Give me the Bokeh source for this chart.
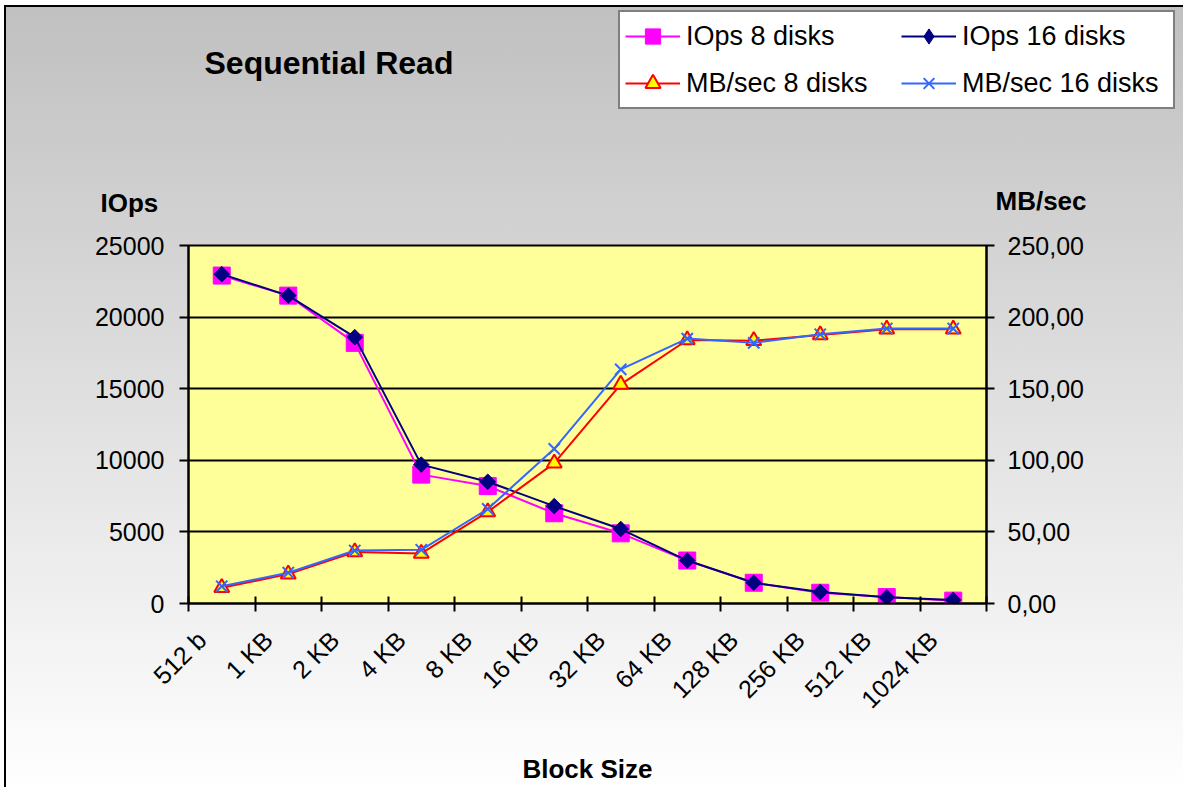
import math
from bokeh.plotting import figure
from bokeh.layouts import column
from bokeh.models import Range1d, LinearAxis, FixedTicker, Legend, LegendItem, Label
from bokeh.embed import file_html
from bokeh.resources import INLINE

# ---------------- data ----------------
block_sizes = ["512 b", "1 KB", "2 KB", "4 KB", "8 KB", "16 KB", "32 KB",
               "64 KB", "128 KB", "256 KB", "512 KB", "1024 KB"]
iops_8_disks = [22900, 21500, 18200, 9000, 8200, 6300, 4900, 3000, 1450, 750, 450, 200]
iops_16_disks = [23000, 21500, 18600, 9700, 8500, 6800, 5200, 3000, 1450, 800, 430, 250]
mbsec_8_disks = [11, 20.5, 36, 35, 64, 98, 153, 184, 183.5, 187.5, 191.5, 191.5]
mbsec_16_disks = [12, 21.5, 37, 37.5, 66, 108, 163.5, 185, 182, 188, 192, 192]
iops_ticks = [0, 5000, 10000, 15000, 20000, 25000]
mbsec_ticks = [0, 50, 100, 150, 200, 250]
mbsec_tick_labels = ["0,00", "50,00", "100,00", "150,00", "200,00", "250,00"]

series_names = ["IOps 8 disks", "IOps 16 disks", "MB/sec 8 disks", "MB/sec 16 disks"]

FONT = "Liberation Sans"
W = 1183
HEAD_H = 230
CHART_H = 557

n = len(block_sizes)
x = [i + 0.5 for i in range(n)]           # category centres
label_pos = [i + 0.2 for i in range(n)]   # where the slanted labels hang
boundaries = list(range(n + 1))

styles = [
    dict(color="#FF00FF", marker="square", size=17, angle=0.0, fill="#FF00FF", mline=1,
         legend_marker="square"),
    dict(color="#000080", marker="square", size=11, angle=math.pi / 4, fill="#000080", mline=1,
         legend_marker="diamond"),
    dict(color="#FF0000", marker="triangle", size=15, angle=0.0, fill="#FFFF00", mline=2,
         legend_marker="triangle"),
    dict(color="#3366FF", marker="x", size=16, angle=0.0, fill=None, mline=2,
         legend_marker="x"),
]
series_values = [iops_8_disks, iops_16_disks, mbsec_8_disks, mbsec_16_disks]
series_ranges = ["default", "default", "mb", "mb"]


def no_align(fig):
    try:
        fig.frame_align = False
    except Exception:
        pass


# ---------------- header (title, legend, axis titles) ----------------
head = figure(width=W, height=HEAD_H, output_backend="svg", toolbar_location=None,
              title=None, x_axis_location=None, y_axis_location=None,
              x_range=Range1d(0, 1), y_range=Range1d(-1, 0),
              min_border=0, min_border_left=0, min_border_right=0,
              min_border_top=0, min_border_bottom=0)
no_align(head)
head.grid.visible = False
head.outline_line_color = None
head.background_fill_color = None
head.border_fill_color = None

# legend proxies: same data, but outside the header's (empty) view, so only
# their legend swatches show
items = []
for name, vals, st in zip(series_names, series_values, styles):
    lr = head.line(x, vals, line_color=st["color"], line_width=2)
    mr = head.scatter(x, vals, marker=st["legend_marker"], size=st["size"],
                      fill_color=st["fill"], line_color=st["color"], line_width=st["mline"])
    items.append(LegendItem(label=name, renderers=[lr, mr]))

legend = Legend(items=items, orientation="horizontal", ncols=2, location=(618, HEAD_H - 109))
legend.label_text_font = FONT
legend.label_text_font_size = "27px"
legend.label_text_color = "black"
legend.glyph_width = 55
legend.glyph_height = 38
legend.label_height = 30
legend.label_width = 206
legend.label_standoff = 6
legend.spacing = 9
legend.padding = 5
legend.margin = 0
legend.border_line_color = "black"
legend.border_line_width = 2
legend.background_fill_color = "white"
legend.background_fill_alpha = 1
head.add_layout(legend)


def add_text(fig, txt, sx, sy, size):
    fig.add_layout(Label(x=sx, y=sy, x_units="screen", y_units="screen", text=txt,
                         text_font=FONT, text_font_size=size, text_font_style="bold",
                         text_color="black", text_align="left", text_baseline="alphabetic"))


add_text(head, "Sequential Read", 204, HEAD_H - 62, "32px")
add_text(head, "IOps", 100, HEAD_H - 202, "26px")
add_text(head, "MB/sec", 995, HEAD_H - 200, "26px")

# ---------------- chart ----------------
p = figure(width=W, height=CHART_H, output_backend="svg", toolbar_location=None,
           title=None,
           x_range=Range1d(0, n), y_range=Range1d(0, 25000),
           min_border_left=188, min_border_right=W - 986,
           min_border_top=245 - HEAD_H, min_border_bottom=CHART_H - (612 - HEAD_H))
no_align(p)
p.border_fill_color = None
p.background_fill_color = "#FFFF99"
p.outline_line_color = "black"
p.outline_line_width = 2

p.extra_y_ranges = {"mb": Range1d(0, 250)}

p.xgrid.visible = False
p.ygrid.grid_line_color = "black"
p.ygrid.grid_line_width = 2
p.ygrid.ticker = FixedTicker(ticks=iops_ticks)

xa = p.xaxis[0]
xa.ticker = FixedTicker(ticks=label_pos, minor_ticks=boundaries)
xa.major_label_overrides = {xv: lab for xv, lab in zip(label_pos, block_sizes)}
xa.major_label_orientation = math.pi / 4
xa.major_tick_out = 0
xa.major_tick_in = 0
xa.minor_tick_out = 8
xa.minor_tick_in = 7
xa.minor_tick_line_color = "black"
xa.minor_tick_line_width = 2
xa.axis_line_color = "black"
xa.axis_line_width = 2
xa.major_label_standoff = 24
xa.major_label_text_font = FONT
xa.major_label_text_font_size = "25px"
xa.major_label_text_color = "black"
xa.axis_label = "Block Size"
xa.axis_label_text_font = FONT
xa.axis_label_text_font_size = "26px"
xa.axis_label_text_font_style = "bold"
xa.axis_label_text_color = "black"
xa.axis_label_standoff = 28

ya = p.yaxis[0]
ya.ticker = FixedTicker(ticks=iops_ticks)
ya.major_tick_out = 9
ya.major_tick_in = 0
ya.minor_tick_out = 0
ya.minor_tick_in = 0
ya.major_tick_line_color = "black"
ya.major_tick_line_width = 2
ya.axis_line_color = "black"
ya.axis_line_width = 2
ya.major_label_standoff = 15
ya.major_label_text_font = FONT
ya.major_label_text_font_size = "25px"
ya.major_label_text_color = "black"

ra = LinearAxis(y_range_name="mb", ticker=FixedTicker(ticks=mbsec_ticks))
ra.major_label_overrides = {t: lab for t, lab in zip(mbsec_ticks, mbsec_tick_labels)}
ra.major_tick_out = 8
ra.major_tick_in = 0
ra.minor_tick_out = 0
ra.minor_tick_in = 0
ra.major_tick_line_color = "black"
ra.major_tick_line_width = 2
ra.axis_line_color = "black"
ra.axis_line_width = 2
ra.major_label_standoff = 13
ra.major_label_text_font = FONT
ra.major_label_text_font_size = "25px"
ra.major_label_text_color = "black"
p.add_layout(ra, "right")

for vals, rng, st in zip(series_values, series_ranges, styles):
    p.line(x, vals, line_color=st["color"], line_width=2, y_range_name=rng)
    p.scatter(x, vals, marker=st["marker"], size=st["size"], angle=st["angle"],
              fill_color=st["fill"], line_color=st["color"], line_width=st["mline"],
              y_range_name=rng)

layout = column(head, p, spacing=0)
layout.styles = {
    "background-color": "#ffffff",
    "background-image": ("linear-gradient(#000000, #000000), "
                         "linear-gradient(#000000, #000000), "
                         "linear-gradient(to bottom, #c0c0c0, #ffffff)"),
    "background-position": "4px 5px, 4px 5px, 4px 5px",
    "background-size": "2px 100%, 100% 2px, 100% 100%",
    "background-repeat": "no-repeat, no-repeat, no-repeat",
}

open("out.html", "w").write(file_html(layout, INLINE))
